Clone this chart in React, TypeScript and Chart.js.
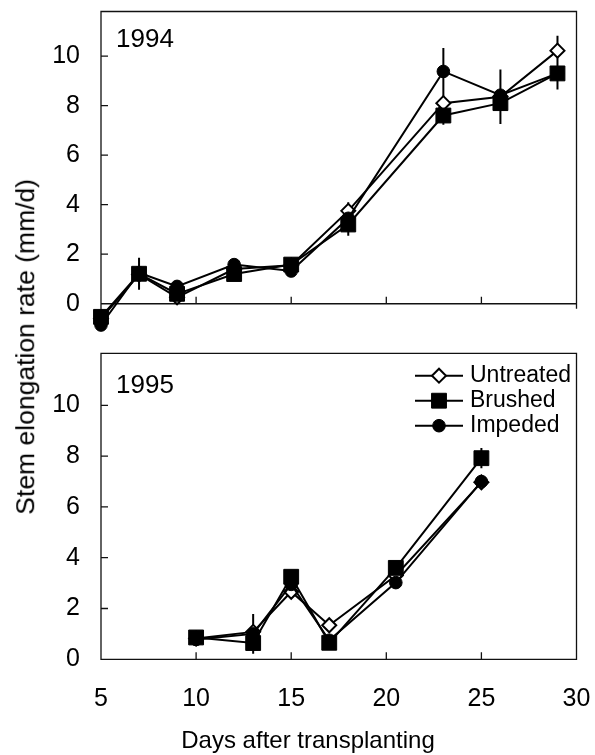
import React, { useEffect, useRef } from 'react';
import { Chart, registerables } from 'chart.js';
import { drawPoint } from 'chart.js/helpers';

Chart.register(...registerables);

// ---------- data ----------
const seriesLabels = ['Untreated', 'Brushed', 'Impeded'];
const yearLabels = ['1994', '1995'];
const xTickValues = [5, 10, 15, 20, 25, 30];
const yTickValues = [0, 2, 4, 6, 8, 10];

const days1994 = [5, 7, 9, 12, 15, 18, 23, 26, 29];
const untreated1994 = [-0.6, 1.18, 0.26, 1.4, 1.55, 3.75, 8.1, 8.36, 10.22];
const brushed1994 = [-0.53, 1.21, 0.4, 1.2, 1.58, 3.2, 7.6, 8.1, 9.3];
const impeded1994 = [-0.86, 1.25, 0.7, 1.58, 1.32, 3.45, 9.38, 8.42, 9.3];
const untreatedErr1994 = [0, 0, 0, 0, 0, 0.35, 0.87, 1.1, 0.6];
const brushedErr1994 = [0, 0.65, 0, 0, 0, 0.45, 0, 0, 0.65];
const impededErr1994 = [0, 0, 0, 0, 0, 0, 0.95, 0, 0];

const days1995 = [10, 13, 15, 17, 20.5, 25];
const untreated1995 = [0.82, 1.08, 2.66, 1.34, 3.3, 6.97];
const brushed1995 = [0.86, 0.64, 3.25, 0.65, 3.6, 7.92];
const impeded1995 = [0.78, 1.0, 2.95, 0.75, 3.02, 7.0];
const untreatedErr1995 = [0, 0, 0, 0, 0, 0];
const brushedErr1995 = [0, 0, 0, 0, 0, 0.4];
const impededErr1995 = [0, 0.78, 0, 0, 0, 0];

// ---------- styles ----------
const FONT = '"Liberation Sans", Arial, Helvetica, sans-serif';
Chart.defaults.font.family = FONT;
Chart.defaults.color = '#000';

const markerStyles = [
  { pointStyle: 'rectRot', radius: 7, bg: '#fff', bw: 2, order: 2 },
  { pointStyle: 'rect', radius: 10.5, bg: '#000', bw: 1, order: 0 },
  { pointStyle: 'circle', radius: 6.3, bg: '#000', bw: 1, order: 1 },
];

function makeDatasets(days: number[], series: number[][], errs: number[][]) {
  return series.map((vals, i) => {
    const m = markerStyles[i];
    return {
      label: seriesLabels[i],
      data: vals.map((v, j) => ({ x: days[j], y: v })),
      errorBars: errs[i],
      order: m.order,
      borderColor: '#000',
      borderWidth: 2,
      pointStyle: m.pointStyle,
      pointRadius: m.radius,
      pointBackgroundColor: m.bg,
      pointBorderColor: '#000',
      pointBorderWidth: m.bw,
      tension: 0,
      clip: false,
      fill: false,
    } as any;
  });
}

const TICK = 7;

const framePlugin = {
  id: 'frame',
  beforeDatasetsDraw(chart: any, _args: any, opts: any) {
    const { ctx, chartArea: a, scales } = chart;
    const x = scales.x;
    const y = scales.y;
    ctx.save();
    ctx.strokeStyle = '#111';
    ctx.lineWidth = 1.3;
    ctx.beginPath();
    let base = a.bottom;
    if (opts.mode === 'top') {
      base = y.getPixelForValue(0);
      ctx.moveTo(a.left, a.bottom);
      ctx.lineTo(a.left, a.top);
      ctx.lineTo(a.right, a.top);
      ctx.lineTo(a.right, base + 5);
      ctx.moveTo(a.left, base);
      ctx.lineTo(a.right, base);
    } else {
      ctx.rect(a.left, a.top, a.right - a.left, a.bottom - a.top);
    }
    for (const v of yTickValues) {
      const p = y.getPixelForValue(v);
      ctx.moveTo(a.left, p);
      ctx.lineTo(a.left + TICK, p);
    }
    for (const v of xTickValues) {
      const p = x.getPixelForValue(v);
      ctx.moveTo(p, base);
      ctx.lineTo(p, base - TICK);
    }
    ctx.stroke();

    // error bars
    ctx.strokeStyle = '#000';
    ctx.lineWidth = 2;
    ctx.beginPath();
    chart.data.datasets.forEach((ds: any, i: number) => {
      const meta = chart.getDatasetMeta(i);
      (ds.errorBars || []).forEach((e: number, j: number) => {
        if (!e) return;
        const pt = meta.data[j];
        const val = ds.data[j].y;
        ctx.moveTo(pt.x, y.getPixelForValue(val + e));
        ctx.lineTo(pt.x, y.getPixelForValue(val - e));
      });
    });
    ctx.stroke();

    // year label
    ctx.fillStyle = '#000';
    ctx.font = '26px ' + FONT;
    ctx.textAlign = 'left';
    ctx.textBaseline = 'alphabetic';
    ctx.fillText(opts.year, a.left + 15, a.top + opts.yearDy);
    ctx.restore();
  },
  afterDatasetsDraw(chart: any, _args: any, opts: any) {
    if (!opts.legend) return;
    const { ctx, chartArea: a } = chart;
    ctx.save();
    const x0 = a.left + 314;
    const x1 = a.left + 362;
    const xm = a.left + 338;
    const xt = a.left + 369;
    chart.data.datasets.forEach((ds: any, i: number) => {
      const yy = a.top + 22.4 + i * 25;
      ctx.strokeStyle = '#000';
      ctx.lineWidth = 2;
      ctx.beginPath();
      ctx.moveTo(x0, yy);
      ctx.lineTo(x1, yy);
      ctx.stroke();
      const m = markerStyles[i];
      ctx.fillStyle = m.bg;
      ctx.strokeStyle = '#000';
      ctx.lineWidth = m.bw;
      drawPoint(ctx, { pointStyle: m.pointStyle, radius: m.radius, rotation: 0, borderWidth: m.bw } as any, xm, yy);
      ctx.fillStyle = '#000';
      ctx.font = '23px ' + FONT;
      ctx.textAlign = 'left';
      ctx.textBaseline = 'middle';
      ctx.fillText(ds.label, xt, yy);
    });
    ctx.restore();
  },
};

function yScale(min: number, max: number) {
  return {
    type: 'linear',
    min,
    max,
    afterBuildTicks: (s: any) => {
      s.ticks = yTickValues.map((v) => ({ value: v }));
    },
    afterFit: (s: any) => {
      s.width = 101;
      s.paddingTop = 0;
      s.paddingBottom = 0;
    },
    grid: { display: false, drawTicks: false },
    border: { display: false },
    ticks: { padding: 21, font: { size: 25 }, color: '#000' },
  };
}

function Panel({ top, height, days, series, errs, year, yearDy, min, max, showX, legend, padTop, padBottom }: any) {
  const ref = useRef<HTMLCanvasElement>(null);
  useEffect(() => {
    if (!ref.current) return;
    const chart = new Chart(ref.current, {
      type: 'line',
      data: { datasets: makeDatasets(days, series, errs) },
      plugins: [framePlugin as any],
      options: {
        responsive: false,
        animation: false,
        events: [],
        layout: { padding: { left: 0, right: 18.5, top: padTop, bottom: padBottom } },
        plugins: {
          legend: { display: false },
          tooltip: { enabled: false },
          frame: { mode: showX ? 'bottom' : 'top', year, yearDy, legend },
        } as any,
        scales: {
          x: {
            type: 'linear',
            min: 5,
            max: 30,
            display: showX,
            afterBuildTicks: (s: any) => {
              s.ticks = xTickValues.map((v) => ({ value: v }));
            },
            afterFit: (s: any) => {
              if (showX) s.height = 95.7;
              s.paddingLeft = 0;
              s.paddingRight = 0;
            },
            grid: { display: false, drawTicks: false },
            border: { display: false },
            ticks: { padding: 25, font: { size: 25 }, color: '#000', maxRotation: 0 },
          },
          y: yScale(min, max),
        } as any,
      },
    });
    return () => chart.destroy();
  }, []);
  return (
    <canvas
      ref={ref}
      width={595}
      height={height}
      style={{ position: 'absolute', left: 0, top, width: 595, height, display: 'block' }}
    />
  );
}

export default function App() {
  return (
    <div style={{ position: 'absolute', left: 0, top: 0, width: 595, height: 755, background: '#fff', fontFamily: FONT }}>
      <Panel
        top={0}
        height={340}
        days={days1994}
        series={[untreated1994, brushed1994, impeded1994]}
        errs={[untreatedErr1994, brushedErr1994, impededErr1994]}
        year={yearLabels[0]}
        yearDy={35}
        min={-1}
        max={11.8}
        showX={false}
        legend={false}
        padTop={8}
        padBottom={7.7}
      />
      <Panel
        top={340}
        height={415}
        days={days1995}
        series={[untreated1995, brushed1995, impeded1995]}
        errs={[untreatedErr1995, brushedErr1995, impededErr1995]}
        year={yearLabels[1]}
        yearDy={39.7}
        min={0}
        max={12.05}
        showX={true}
        legend={true}
        padTop={13.3}
        padBottom={0}
      />
      <div
        style={{
          position: 'absolute',
          left: 25.8 - 200,
          top: 346.5 - 14.8,
          width: 400,
          height: 29.6,
          lineHeight: '29.6px',
          fontSize: 26.5,
          textAlign: 'center',
          transform: 'rotate(-90deg)',
          color: '#000',
          whiteSpace: 'nowrap',
        }}
      >
        Stem elongation rate (mm/d)
      </div>
      <div
        style={{
          position: 'absolute',
          left: 308 - 200,
          top: 724.7,
          width: 400,
          height: 30,
          lineHeight: '30px',
          fontSize: 24,
          textAlign: 'center',
          color: '#000',
          whiteSpace: 'nowrap',
        }}
      >
        Days after transplanting
      </div>
    </div>
  );
}
